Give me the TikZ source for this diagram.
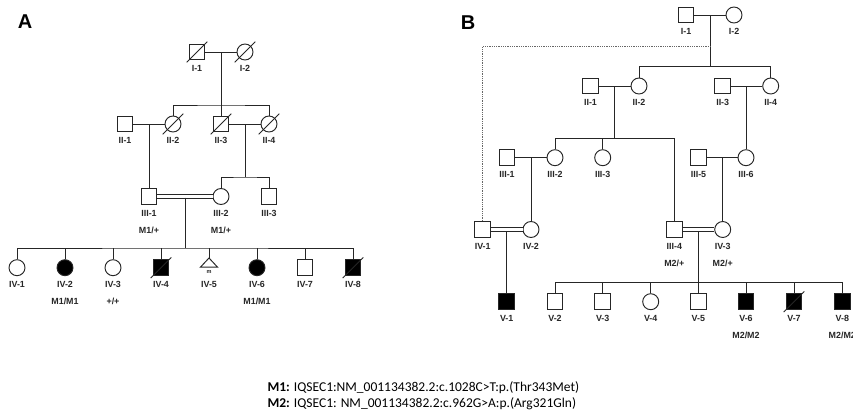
\documentclass[tikz,border=0pt]{standalone}
\usepackage{fontspec}
\setmainfont{Liberation Sans}
\newfontfamily\legfont{Carlito}
\usetikzlibrary{calc}
\tikzset{
  x=1pt, y=-1pt,
  ln/.style={line width=0.95pt, draw=black!85},
  male/.style={ln, rectangle, minimum size=15.5pt, inner sep=0pt, fill=white},
  female/.style={ln, circle, minimum size=16pt, inner sep=0pt, fill=white},
  aff/.style={fill=black},
  lbl/.style={font=\bfseries\fontsize{8.9}{10}\selectfont, text=black!85, inner sep=0pt},
  panel/.style={font=\bfseries\fontsize{20}{22}\selectfont, inner sep=0pt},
  dbl/.style={line width=0.95pt, draw=black!85, double=white, double distance=2.4pt},
  dotl/.style={line width=0.8pt, draw=black!60, dash pattern=on 0.8pt off 1pt},
  leg/.style={font=\legfont\fontsize{13.5}{15}\selectfont, inner sep=0pt, anchor=west}
}
\newcommand\pedlab[2]{\node[lbl] (#1-l) at ($(#1)+(0,16.5)$) {#2};}
\newcommand\pedgt[2]{\node[lbl] (#1-g) at ($(#1)+(0,34)$) {#2};}
\newcommand\pedrip[1]{\draw[ln] ($(#1)+(-10.3,10.3)$) -- ($(#1)+(10.3,-10.3)$);}
\begin{document}
\begin{tikzpicture}
\useasboundingbox (0,0) rectangle (853,415);
% ================= Panel A =================
\node[panel] (pA) at (25,22) {A};
% generation I
\node[male] (A-I1) at (197,52) {};
\node[female] (A-I2) at (245,52) {};
% generation II
\node[male] (A-II1) at (125,124) {};
\node[female] (A-II2) at (173,124) {};
\node[male] (A-II3) at (221,124) {};
\node[female] (A-II4) at (269,124) {};
% generation III
\node[male] (A-III1) at (149,196.5) {};
\node[female] (A-III2) at (221,196.5) {};
\node[male] (A-III3) at (269,196.5) {};
% generation IV
\node[female] (A-IV1) at (17,267.7) {};
\node[female,aff] (A-IV2) at (65,267.7) {};
\node[female] (A-IV3) at (113,267.7) {};
\node[male,aff] (A-IV4) at (161,267.7) {};
\coordinate (A-IV5) at (209,258);
\node[female,aff] (A-IV6) at (257,267.7) {};
\node[male] (A-IV7) at (305,267.7) {};
\node[male,aff] (A-IV8) at (353,267.7) {};
% connectors A
\coordinate (mA-I) at (221,52);
\coordinate (sA-II) at (221,105);
\coordinate (mA-II12) at (149,124);
\coordinate (mA-II34) at (245,124);
\coordinate (sA-III) at (245,177);
\coordinate (mA-III) at (185,197.7);
\coordinate (sA-IV) at (185,248);
\draw[ln] (A-I1) -- (A-I2);
\draw[ln] (mA-I) -- (sA-II);
\draw[ln] (A-II2.north) |- (sA-II) -| (A-II4.north);
\draw[ln] (sA-II) -- (A-II3.north);
\draw[ln] (A-II1) -- (A-II2);
\draw[ln] (A-II3) -- (A-II4);
\draw[ln] (mA-II12) -- (A-III1.north);
\draw[ln] (mA-II34) -- (sA-III);
\draw[ln] (A-III2.north) |- (sA-III) -| (A-III3.north);
\draw[dbl] (A-III1) -- (A-III2);
\draw[ln] (mA-III) -- (sA-IV);
\draw[ln] (A-IV1.north) |- (sA-IV) -| (A-IV8.north);
\foreach \c in {2,3,4,6,7} \draw[ln] (A-IV\c.north) -- (A-IV\c.north |- sA-IV);
\draw[ln] (A-IV5) -- (A-IV5 |- sA-IV);
\draw[ln] (A-IV5) -- ++(-8.6,9.2) -- ++(17.2,0) -- cycle;
\node[inner sep=0pt, font=\bfseries\fontsize{5.5}{6}\selectfont, text=black!85] (A-IV5-m) at (209,271.8) {m};
% deceased
\pedrip{A-I1}\pedrip{A-I2}\pedrip{A-II2}\pedrip{A-II3}\pedrip{A-II4}\pedrip{A-IV4}\pedrip{A-IV8}
% labels A
\pedlab{A-I1}{I-1}\pedlab{A-I2}{I-2}
\pedlab{A-II1}{II-1}\pedlab{A-II2}{II-2}\pedlab{A-II3}{II-3}\pedlab{A-II4}{II-4}
\pedlab{A-III1}{III-1}\pedlab{A-III2}{III-2}\pedlab{A-III3}{III-3}
\pedgt{A-III1}{M1/+}\pedgt{A-III2}{M1/+}
\pedlab{A-IV1}{IV-1}\pedlab{A-IV2}{IV-2}\pedlab{A-IV3}{IV-3}\pedlab{A-IV4}{IV-4}
\node[lbl] (A-IV5-l) at (209,284.2) {IV-5};
\pedlab{A-IV6}{IV-6}\pedlab{A-IV7}{IV-7}\pedlab{A-IV8}{IV-8}
\pedgt{A-IV2}{M1/M1}\pedgt{A-IV3}{+/+}\pedgt{A-IV6}{M1/M1}
% ================= Panel B =================
\node[panel] (pB) at (468,23) {B};
\node[male] (B-I1) at (686,15) {};
\node[female] (B-I2) at (734,15) {};
\node[male] (B-II1) at (590.5,86) {};
\node[female] (B-II2) at (639,86) {};
\node[male] (B-II3) at (722.7,86) {};
\node[female] (B-II4) at (770.7,86) {};
\node[male] (B-III1) at (507,157.7) {};
\node[female] (B-III2) at (555,157.7) {};
\node[female] (B-III3) at (602.7,157.7) {};
\node[male] (B-III5) at (698.5,157.7) {};
\node[female] (B-III6) at (746,157.7) {};
\node[male] (B-IV1) at (482.7,229.5) {};
\node[female] (B-IV2) at (531,229.5) {};
\node[male] (B-III4) at (674.3,229.5) {};
\node[female] (B-IV3) at (722.7,229.5) {};
\node[male,aff] (B-V1) at (506.7,301.7) {};
\node[male] (B-V2) at (555,301.7) {};
\node[male] (B-V3) at (602.7,301.7) {};
\node[female] (B-V4) at (650.7,301.7) {};
\node[male] (B-V5) at (698.3,301.7) {};
\node[male,aff] (B-V6) at (746,301.7) {};
\node[male,aff] (B-V7) at (794,301.7) {};
\node[male,aff] (B-V8) at (842.3,301.7) {};
% connectors B
\coordinate (mB-I) at (710.7,15);
\coordinate (dB) at (710.7,46.7);
\coordinate (sB-II) at (710.7,66.7);
\coordinate (mB-II12) at (614.7,86);
\coordinate (sB-III) at (614.7,138.3);
\coordinate (mB-II34) at (746,86);
\coordinate (mB-III12) at (531,157.7);
\coordinate (mB-III56) at (722.7,157.7);
\coordinate (mB-IV12) at (506.7,231.3);
\coordinate (mB-IV34) at (698.3,231.3);
\coordinate (sB-V) at (698.3,282.7);
\draw[ln] (B-I1) -- (B-I2);
\draw[ln] (mB-I) -- (sB-II);
\draw[dotl] (dB) -| (B-IV1.north);
\draw[ln] (B-II2.north) |- (sB-II) -| (B-II4.north);
\draw[ln] (B-II1) -- (B-II2);
\draw[ln] (B-II3) -- (B-II4);
\draw[ln] (mB-II12) -- (sB-III);
\draw[ln] (B-III2.north) |- (sB-III) -| (B-III4.north);
\draw[ln] (B-III3.north) -- (B-III3.north |- sB-III);
\draw[ln] (mB-II34) -- (B-III6.north);
\draw[ln] (B-III1) -- (B-III2);
\draw[ln] (B-III5) -- (B-III6);
\draw[ln] (mB-III12) -- (B-IV2.north);
\draw[ln] (mB-III56) -- (B-IV3.north);
\draw[dbl] (B-IV1) -- (B-IV2);
\draw[dbl] (B-III4) -- (B-IV3);
\draw[ln] (mB-IV12) -- (B-V1.north);
\draw[ln] (mB-IV34) -- (sB-V);
\draw[ln] (B-V2.north) |- (sB-V) -| (B-V8.north);
\foreach \c in {3,4,5,6,7} \draw[ln] (B-V\c.north) -- (B-V\c.north |- sB-V);
\pedrip{B-V7}
% labels B
\pedlab{B-I1}{I-1}\pedlab{B-I2}{I-2}
\pedlab{B-II1}{II-1}\pedlab{B-II2}{II-2}\pedlab{B-II3}{II-3}\pedlab{B-II4}{II-4}
\pedlab{B-III1}{III-1}\pedlab{B-III2}{III-2}\pedlab{B-III3}{III-3}\pedlab{B-III5}{III-5}\pedlab{B-III6}{III-6}
\pedlab{B-IV1}{IV-1}\pedlab{B-IV2}{IV-2}\pedlab{B-III4}{III-4}\pedlab{B-IV3}{IV-3}
\pedgt{B-III4}{M2/+}\pedgt{B-IV3}{M2/+}
\pedlab{B-V1}{V-1}\pedlab{B-V2}{V-2}\pedlab{B-V3}{V-3}\pedlab{B-V4}{V-4}\pedlab{B-V5}{V-5}\pedlab{B-V6}{V-6}\pedlab{B-V7}{V-7}\pedlab{B-V8}{V-8}
\pedgt{B-V6}{M2/M2}\pedgt{B-V8}{M2/M2}
% ================= Legend =================
\node[leg] (legM1) at (267.3,387.3) {\textbf{M1:} IQSEC1:NM\_001134382.2:c.1028C>T:p.(Thr343Met)};
\node[leg] (legM2) at (267.3,403.3) {\textbf{M2:} IQSEC1: NM\_001134382.2:c.962G>A:p.(Arg321Gln)};
\end{tikzpicture}
\end{document}
